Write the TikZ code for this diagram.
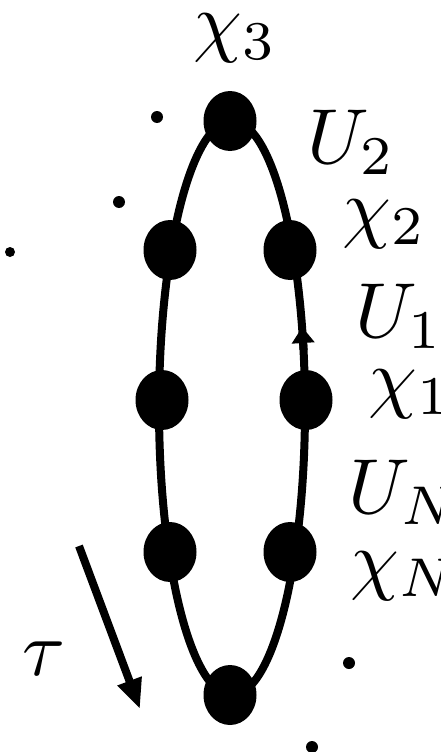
\documentclass[tikz,border=0pt]{standalone}
\usepackage{graphicx}
\usetikzlibrary{shapes.geometric,arrows.meta}
\newcommand{\biglbl}[1]{\scalebox{7.8}{\fontsize{10}{12}\selectfont #1}}
\tikzset{
  vtx/.style={ellipse, fill=black, minimum width=53pt, minimum height=60pt, inner sep=0pt},
  dotn/.style={circle, fill=black, minimum size=12pt, inner sep=0pt},
  lbl/.style={anchor=base west, inner sep=0pt},
  loopline/.style={line width=8pt},
  tauarrow/.style={line width=8pt, -{Triangle[length=30pt,width=24pt]}},
  headarrow/.style={line width=8pt, -{Triangle[length=16pt,width=22pt]}}
}
\begin{document}
\begin{tikzpicture}[x=1pt,y=1pt]
\useasboundingbox (0,0) rectangle (441,-752);
% loop
\coordinate (c) at (232,-408);
\draw[loopline] (c) ellipse [x radius=73pt, y radius=287pt];
% arrowhead on the right side, between chi_1 and chi_2
\coordinate (ha) at (303.6,-350);
\coordinate (hb) at (302.2,-327);
\draw[headarrow] (ha) -- (hb);
% vertices
\node[vtx] (t)  at (230,-121) {};
\node[vtx] (r2) at (290,-250) {};
\node[vtx] (l2) at (170,-250) {};
\node[vtx] (r1) at (306,-400) {};
\node[vtx] (l1) at (162,-400) {};
\node[vtx] (rN) at (290,-552) {};
\node[vtx] (lN) at (170,-552) {};
\node[vtx] (b)  at (230,-695) {};
% dots
\node[dotn] (d1) at (157,-117) {};
\node[dotn] (d2) at (119,-202) {};
\node[dotn, minimum size=10pt] (d3) at (10,-252) {};
\node[dotn] (d4) at (349,-663) {};
\node[dotn] (d5) at (312,-747) {};
% tau arrow
\coordinate (ts) at (79,-546);
\coordinate (te) at (140,-709);
\draw[tauarrow] (ts) -- (te);
% labels
\node[lbl] (lx3) at (193,-48) {\biglbl{$\chi_3$}};
\node[lbl] (lu2) at (307,-163) {\biglbl{$U_2$}};
\node[lbl] (lx2) at (342,-233) {\biglbl{$\chi_2$}};
\node[lbl] (lu1) at (355,-337) {\biglbl{$U_1$}};
\node[lbl] (lx1) at (368,-403) {\biglbl{$\chi_1$}};
\node[lbl] (luN) at (348,-513) {\biglbl{$U_N$}};
\node[lbl] (lxN) at (350,-585) {\biglbl{$\chi_N$}};
\node[lbl] (ltau) at (22,-675) {\biglbl{$\tau$}};
\end{tikzpicture}
\end{document}
